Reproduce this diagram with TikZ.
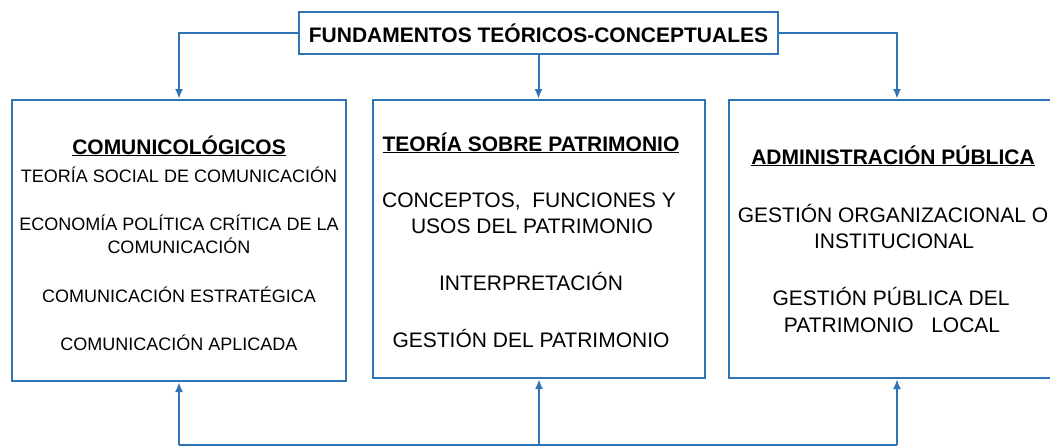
\documentclass[tikz,border=0pt]{standalone}
\usepackage{fontspec}
\setmainfont{Liberation Sans}
\usepackage{tikz}
\usetikzlibrary{arrows.meta,positioning,calc,shadows}
\definecolor{fundblue}{RGB}{46,117,182}

\tikzset{
    fundbox/.style={draw=fundblue, line width=2pt, fill=white, inner sep=0pt},
    areabox/.style={draw=fundblue, line width=2pt, fill=white,
        drop shadow={shadow xshift=1pt, shadow yshift=-1pt, fill=black!30}},
    link/.style={draw=fundblue, line width=2pt, -{Latex[length=10pt,width=8pt]}},
    headtxt/.style={anchor=base, inner sep=0pt, font=\bfseries\fontsize{#1}{#1}\selectfont},
    itemtxt/.style={anchor=base, inner sep=0pt, font=\fontsize{#1}{#1}\selectfont}
}

\begin{document}
\begin{tikzpicture}[x=1pt, y=-1pt]
    % Frame
    \path[use as bounding box, clip] (0,0) rectangle (1050,445);

    % Top heading
    \node[fundbox, minimum width=479pt, minimum height=42pt,
        font=\bfseries\fontsize{21}{25}\selectfont] (fund) at (538.5,33) {FUNDAMENTOS TEÓRICOS-CONCEPTUALES};

    % Three areas
    \node[areabox, minimum width=334pt, minimum height=281pt] (comu) at (179,240.5) {};
    \node[areabox, minimum width=332pt, minimum height=278pt] (patr) at (539,239) {};
    \node[areabox, minimum width=336pt, minimum height=278pt] (admi) at (897,239) {};

    % Comunicologicos
    \node[headtxt=21] (comuhead) at (179,154) {\underline{COMUNICOLÓGICOS}};
    \node[itemtxt=18] (teosoc) at (179,182) {TEORÍA SOCIAL DE COMUNICACIÓN};
    \node[itemtxt=18] (econa) at (179,230) {ECONOMÍA POLÍTICA CRÍTICA DE LA};
    \node[itemtxt=18] (econb) at (179,253) {COMUNICACIÓN};
    \node[itemtxt=18] (estra) at (179,302) {COMUNICACIÓN ESTRATÉGICA};
    \node[itemtxt=18] (aplic) at (179,350) {COMUNICACIÓN APLICADA};

    % Patrimonio
    \node[headtxt=21] (patrhead) at (531,151) {\underline{TEORÍA SOBRE PATRIMONIO}};
    \node[itemtxt=21] (conca) at (529,207) {CONCEPTOS,\ \ FUNCIONES Y};
    \node[itemtxt=21] (concb) at (532,233) {USOS DEL PATRIMONIO};
    \node[itemtxt=21] (interp) at (531,290) {INTERPRETACIÓN};
    \node[itemtxt=21] (gestpat) at (531,347) {GESTIÓN DEL PATRIMONIO};

    % Administracion
    \node[headtxt=21] (admihead) at (893,164) {\underline{ADMINISTRACIÓN PÚBLICA}};
    \node[itemtxt=21] (orga) at (893,222) {GESTIÓN ORGANIZACIONAL O};
    \node[itemtxt=21] (orgb) at (894,248) {INSTITUCIONAL};
    \node[itemtxt=21] (puba) at (891,305) {GESTIÓN PÚBLICA DEL};
    \node[itemtxt=21] (pubb) at (892,332) {PATRIMONIO\ \ \ LOCAL};

    % Arrows down
    \draw[link] (fund.west) -| (comu.north);
    \draw[link] (fund.south) -- (fund.south |- patr.north);
    \draw[link] (fund.east) -| (admi.north);

    % Arrows up from bottom
    \coordinate (feed) at (179,445);
    \draw[link] (comu.south |- feed) -- (comu.south);
    \draw[link] (patr.south |- feed) -- (patr.south);
    \draw[link] (admi.south |- feed) -- (admi.south);
    \draw[fundblue, line width=2pt] (comu.south |- feed) -- (admi.south |- feed);
\end{tikzpicture}
\end{document}
